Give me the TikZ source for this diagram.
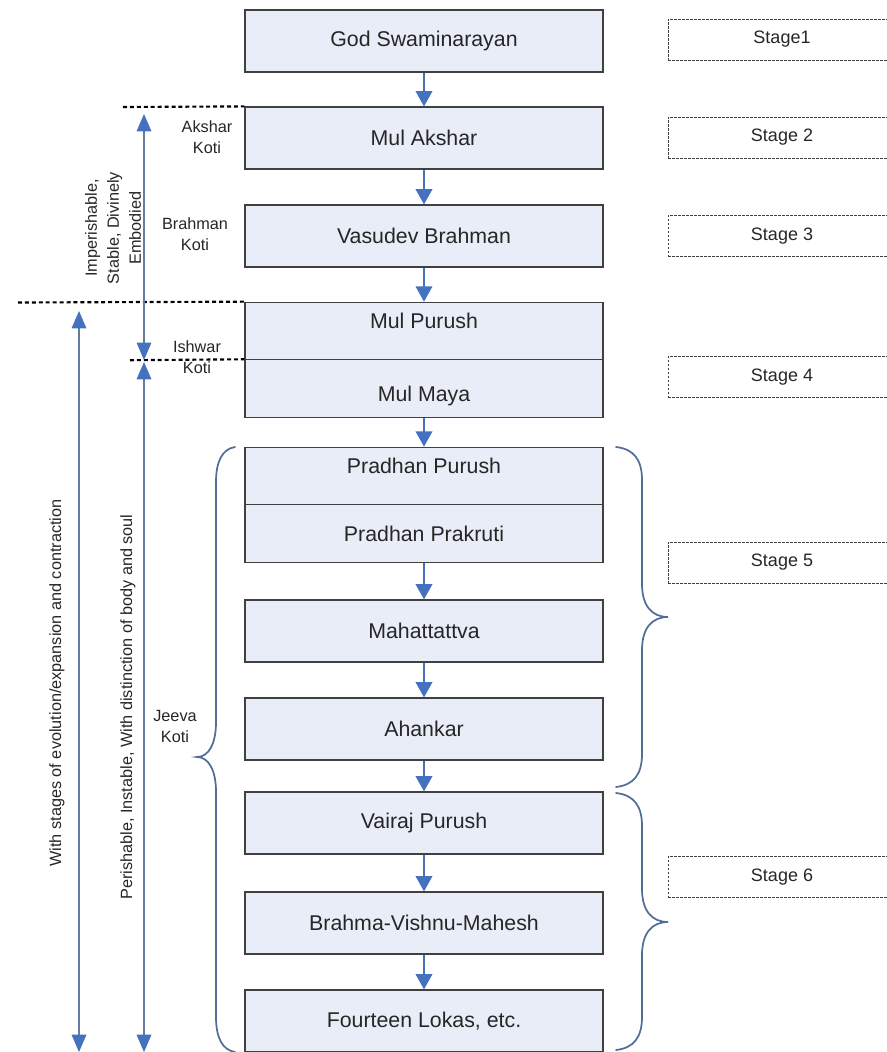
\documentclass[tikz,border=0pt]{standalone}
\usepackage{fontspec}
\setmainfont{Liberation Sans}
\usetikzlibrary{arrows.meta}

\definecolor{TattvaColor}{RGB}{232,237,247}
\definecolor{TattvaBorder}{RGB}{64,64,64}
\definecolor{FlowColor}{RGB}{68,114,190}
\definecolor{SpanColor}{RGB}{100,125,160}
\definecolor{BraceColor}{RGB}{80,110,150}
\definecolor{LabelColor}{RGB}{38,38,38}
\tikzstyle{tattva-base}=[rectangle,
                          draw=TattvaBorder,
                          line width=0.9pt,
                          fill={TattvaColor},
                          text=LabelColor,
                          text centered,
                          minimum width=268.5pt,
                          font=\fontsize{16}{19}\selectfont,
                         ]
\tikzstyle{tattva}=[tattva-base, minimum height=46.5pt]
\tikzstyle{tattva-half}=[tattva-base, minimum height=43.1pt]
\tikzstyle{tattva-upper}=[tattva-half, text height=11.5pt, text depth=15.5pt]
\tikzstyle{tattva-lower}=[tattva-half, text height=23.5pt, text depth=3.5pt]
\tikzstyle{stage-box}=[rectangle,
                        draw=TattvaBorder,
                        line width=0.6pt,
                        dash pattern=on 2pt off 1pt,
                        text=LabelColor,
                        minimum width=171pt,
                        minimum height=30.75pt,
                        font=\fontsize{13.5}{16}\selectfont]
\tikzstyle{koti-label}=[text=LabelColor, align=center, inner sep=0pt,
                         font=\fontsize{12.2}{15.75}\selectfont]
\tikzstyle{span-label}=[koti-label, rotate=90,
                         font=\fontsize{12.2}{16.5}\selectfont]
\tikzstyle{flow}=[draw=FlowColor, line width=1.3pt,
                   -{Triangle[width=12.5pt,length=11.5pt]}]
\tikzstyle{span-arrow}=[draw=SpanColor, line width=0.8pt,
                         {Triangle[width=11pt,length=13pt,color=FlowColor]}-{Triangle[width=11pt,length=13pt,color=FlowColor]}]
\tikzstyle{koti-line}=[draw=black, line width=1.6pt, dash pattern=on 3pt off 2.2pt]
\tikzstyle{curly}=[draw=BraceColor, line width=1.3pt, line cap=round]

\begin{document}
\begin{tikzpicture}[x=0.75pt, y=-0.75pt]
    \useasboundingbox (0,0) rectangle (886,1052);

    % Tattvas
    % --------------------------------------------------------------------------
    \node at (424,   41) (god)              [tattva] {God Swaminarayan};
    \node at (424,  138) (mul_akshar)       [tattva] {Mul Akshar};
    \node at (424,  236) (vasudev)          [tattva] {Vasudev Brahman};
    \node at (424,  331) (mul_purush)       [tattva-upper] {Mul Purush};
    \node at (424,388.6) (mul_maya)         [tattva-lower] {Mul Maya};
    \node at (424,  476) (pradhan_purush)   [tattva-upper] {Pradhan Purush};
    \node at (424,533.5) (pradhan_prakruti) [tattva-half]  {Pradhan Prakruti};
    \node at (424,  631) (mahattattva)      [tattva] {Mahattattva};
    \node at (424,  729) (ahankar)          [tattva] {Ahankar};
    \node at (424,  823) (vairaj)           [tattva] {Vairaj Purush};
    \node at (424,  923) (trimurti)         [tattva] {Brahma-Vishnu-Mahesh};
    \node at (424, 1021) (lokas)            [tattva] {Fourteen Lokas, etc.};

    % Stages
    % --------------------------------------------------------------------------
    \node at (782, 39.5) (stage_1) [stage-box] {Stage1};
    \node at (782,137.5) (stage_2) [stage-box] {Stage 2};
    \node at (782,  236) (stage_3) [stage-box] {Stage 3};
    \node at (782,  377) (stage_4) [stage-box] {Stage 4};
    \node at (782,562.5) (stage_5) [stage-box] {Stage 5};
    \node at (782,  877) (stage_6) [stage-box] {Stage 6};

    % Koti labels
    % --------------------------------------------------------------------------
    \node at (207,137.5) (akshar_koti)  [koti-label] {Akshar\\Koti};
    \node at (195,  234) (brahman_koti) [koti-label] {Brahman\\Koti};
    \node at (197,  357) (ishwar_koti)  [koti-label] {Ishwar\\Koti};
    \node at (175,  726) (jeeva_koti)   [koti-label] {Jeeva\\Koti};

    \node at (113, 228) (akshar_quality) [span-label] {Imperishable,\\Stable, Divinely\\Embodied};
    \node at ( 57, 683) (world_quality)  [span-label] {With stages of evolution/expansion and contraction};
    \node at (128, 707) (jeeva_quality)  [span-label] {Perishable, Instable, With distinction of body and soul};

    % Koti lines
    % --------------------------------------------------------------------------
    \coordinate (line_1_l) at (123, 107);
    \draw[koti-line] (line_1_l) -- (mul_akshar.north west);
    \coordinate (line_2_l) at ( 18, 302.5);
    \draw[koti-line] (line_2_l) -- (mul_purush.north west);
    \coordinate (line_3_l) at (130, 360.2);
    \draw[koti-line] (line_3_l) -- (mul_maya.north west);

    \coordinate (akshar_span_top) at (144, 114);
    \coordinate (akshar_span_bot) at (144, 360);
    \coordinate (jeeva_span_top)  at (144, 362);
    \coordinate (jeeva_span_bot)  at (144, 1052);
    \coordinate (world_span_top)  at ( 79, 311);
    \coordinate (world_span_bot)  at ( 79, 1052);
    \draw[span-arrow] (akshar_span_top) -- (akshar_span_bot);
    \draw[span-arrow] (jeeva_span_top)  -- (jeeva_span_bot);
    \draw[span-arrow] (world_span_top)  -- (world_span_bot);

    % Braces
    % --------------------------------------------------------------------------
    \draw[curly] (235,447) .. controls (222,449) and (216,462) .. (216,482) -- (216,722)
                 .. controls (216,745) and (208,757) .. (197,757)
                 .. controls (208,757) and (216,769) .. (216,792) -- (216,1017)
                 .. controls (216,1037) and (222,1050) .. (235,1052);
    \draw[curly] (616,447) .. controls (634,449) and (642,460) .. (642,480) -- (642,584)
                 .. controls (642,606) and (652,617) .. (668,617)
                 .. controls (652,617) and (642,628) .. (642,650) -- (642,754)
                 .. controls (642,774) and (634,785) .. (616,787);
    \draw[curly] (616,793) .. controls (634,795) and (642,806) .. (642,826) -- (642,889)
                 .. controls (642,911) and (652,922) .. (668,922)
                 .. controls (652,922) and (642,933) .. (642,955) -- (642,1017)
                 .. controls (642,1037) and (634,1048) .. (616,1050);

    % Arrows
    % --------------------------------------------------------------------------
    \draw[flow] (god)              -- (mul_akshar);
    \draw[flow] (mul_akshar)       -- (vasudev);
    \draw[flow] (vasudev)          -- (mul_purush);
    \draw[flow] (mul_maya)         -- (pradhan_purush);
    \draw[flow] (pradhan_prakruti) -- (mahattattva);
    \draw[flow] (mahattattva)      -- (ahankar);
    \draw[flow] (ahankar)          -- (vairaj);
    \draw[flow] (vairaj)           -- (trimurti);
    \draw[flow] (trimurti)         -- (lokas);
\end{tikzpicture}
\end{document}
